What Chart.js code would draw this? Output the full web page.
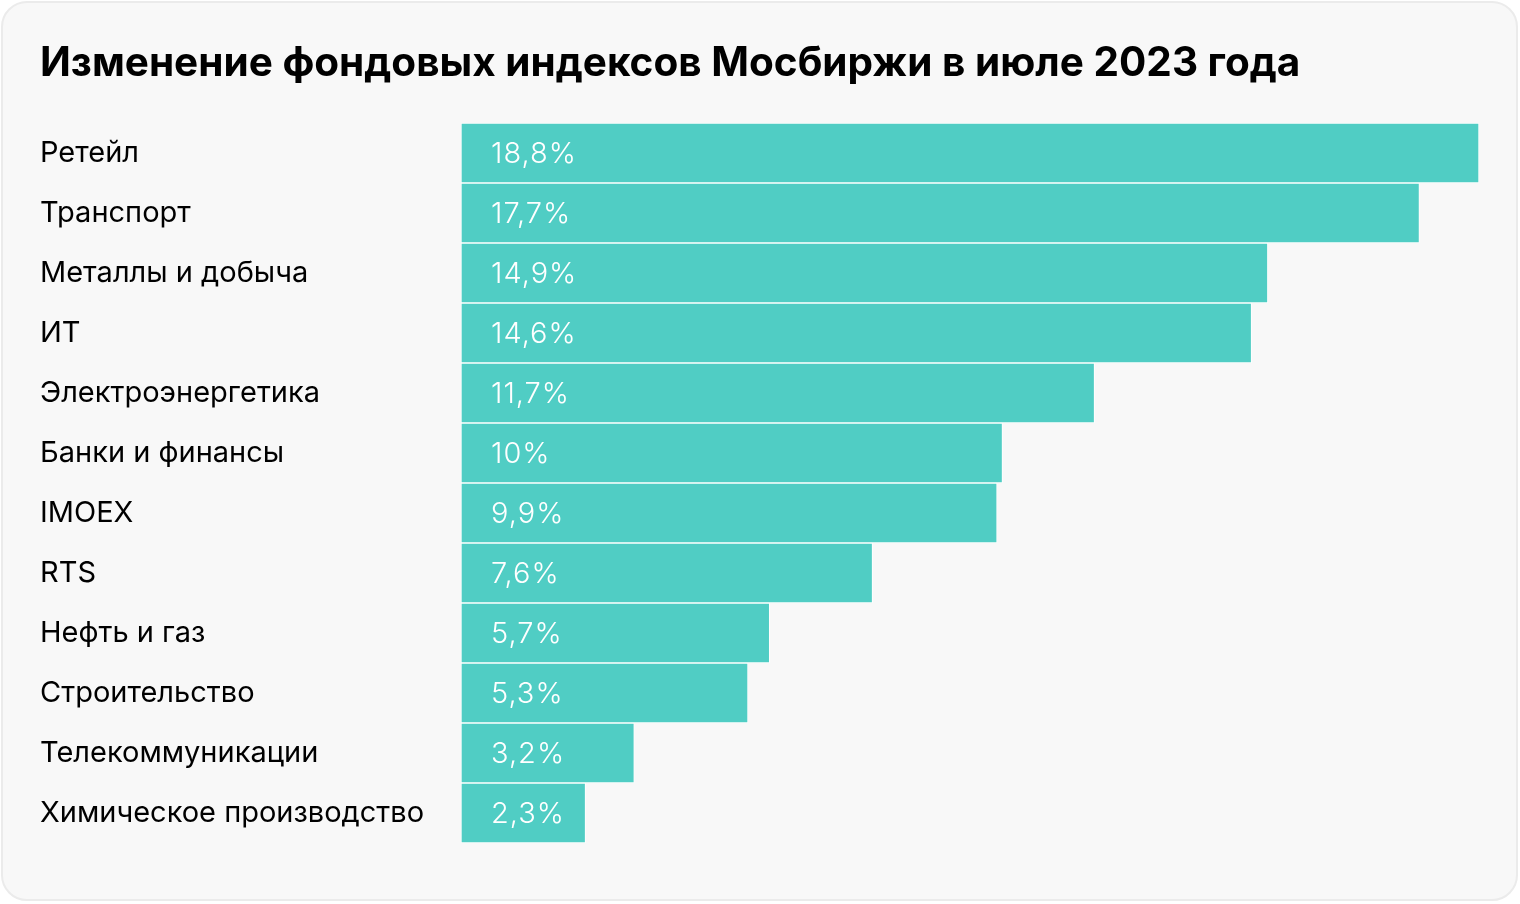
<!DOCTYPE html>
<html>
<head>
<meta charset="utf-8">
<script src="https://cdn.jsdelivr.net/npm/chart.js@4"></script>
<style>
  html, body { margin: 0; padding: 0; background: #ffffff; }
  .card {
    position: absolute; left: 1px; top: 1px; width: 1517px; height: 900px;
    box-sizing: border-box; background: #f8f8f8; border: 2px solid #ebebeb; border-radius: 26px;
  }
  #chart { position: absolute; left: 0; top: 0; }
</style>
</head>
<body>
<div class="card"></div>
<canvas id="chart" width="1520" height="904"></canvas>
<script>
const categories = [
  'Ретейл', 'Транспорт', 'Металлы и добыча', 'ИТ', 'Электроэнергетика', 'Банки и финансы',
  'IMOEX', 'RTS', 'Нефть и газ', 'Строительство', 'Телекоммуникации', 'Химическое производство'
];
const changes = [18.8, 17.7, 14.9, 14.6, 11.7, 10, 9.9, 7.6, 5.7, 5.3, 3.2, 2.3];
const valueLabels = ['18,8%', '17,7%', '14,9%', '14,6%', '11,7%', '10%', '9,9%', '7,6%', '5,7%', '5,3%', '3,2%', '2,3%'];

const FONT = 'Inter, Roboto, "Noto Sans", sans-serif';

// white percentage text inside each bar, 30px from its base
const barLabels = {
  id: 'barLabels',
  afterDatasetsDraw(chart) {
    const ctx = chart.ctx;
    const x0 = chart.scales.x.getPixelForValue(0);
    ctx.save();
    ctx.font = '300 29px ' + FONT;
    ctx.letterSpacing = '1px';
    ctx.fillStyle = '#ffffff';
    ctx.textAlign = 'left';
    ctx.textBaseline = 'middle';
    chart.getDatasetMeta(0).data.forEach((bar, i) => {
      ctx.fillText(valueLabels[i], x0 + 30, bar.y + 1);
    });
    ctx.restore();
  }
};

new Chart(document.getElementById('chart'), {
  type: 'bar',
  data: {
    labels: categories,
    datasets: [{
      data: changes,
      backgroundColor: '#50cdc4',
      borderColor: 'rgba(255,255,255,0.85)',
      borderWidth: 1,
      borderSkipped: false,
      barPercentage: 1,
      categoryPercentage: 1
    }]
  },
  options: {
    indexAxis: 'y',
    responsive: false,
    animation: false,
    layout: { padding: { left: 40, right: 41, top: 20, bottom: 61 } },
    plugins: {
      legend: { display: false },
      tooltip: { enabled: false },
      title: {
        display: true,
        text: 'Изменение фондовых индексов Мосбиржи в июле 2023 года',
        align: 'start',
        color: '#000000',
        font: { family: FONT, size: 40.5, weight: '700', lineHeight: 1.2 },
        padding: { top: 20, bottom: 34.4 }
      }
    },
    scales: {
      x: { display: false, min: 0, max: 18.8 },
      y: {
        grid: { display: false },
        border: { display: false },
        ticks: {
          crossAlign: 'far',
          color: '#000000',
          font: { family: FONT, size: 29 }
        },
        afterFit(scale) { scale.width = 421; }
      }
    }
  },
  plugins: [barLabels]
});
</script>
</body>
</html>
